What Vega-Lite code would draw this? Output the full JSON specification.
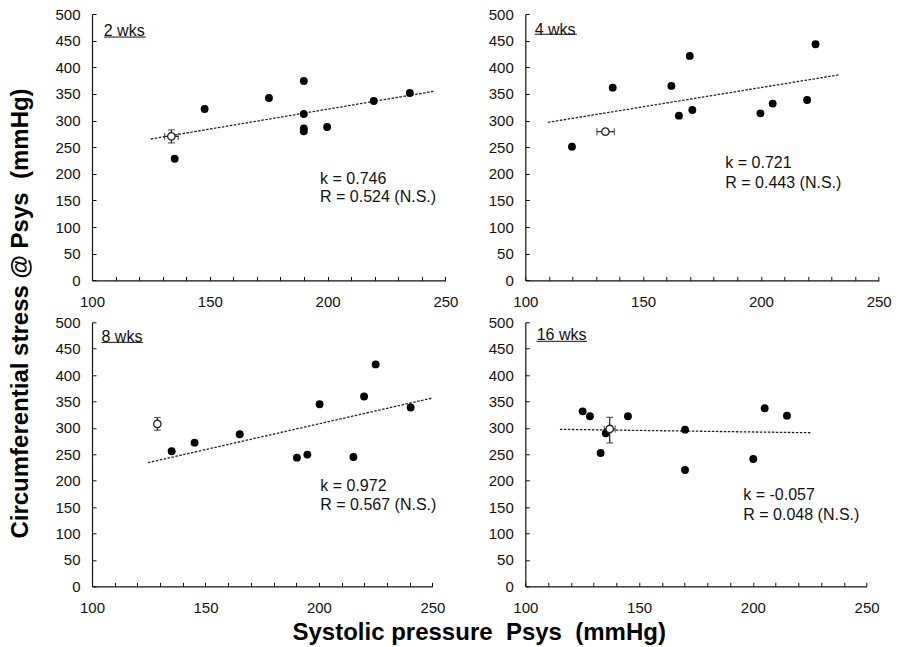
{
  "$schema": "https://vega.github.io/schema/vega-lite/v6.json",
  "padding": {"left": 8, "top": 7, "right": 0, "bottom": 0},
  "background": "white",
  "data": {
    "values": [
      {"panel": "2 wks", "kind": "dot", "x": 135.1, "y": 228.4},
      {"panel": "2 wks", "kind": "dot", "x": 147.8, "y": 321.7},
      {"panel": "2 wks", "kind": "dot", "x": 175.1, "y": 342.3},
      {"panel": "2 wks", "kind": "dot", "x": 189.9, "y": 374.2},
      {"panel": "2 wks", "kind": "dot", "x": 189.9, "y": 312.3},
      {"panel": "2 wks", "kind": "dot", "x": 189.9, "y": 285.0},
      {"panel": "2 wks", "kind": "dot", "x": 189.9, "y": 280.0},
      {"panel": "2 wks", "kind": "dot", "x": 199.8, "y": 287.9},
      {"panel": "2 wks", "kind": "dot", "x": 219.6, "y": 336.7},
      {"panel": "2 wks", "kind": "dot", "x": 234.9, "y": 351.7},
      {"panel": "2 wks", "kind": "mean", "x": 133.7, "y": 270.3},
      {"panel": "2 wks", "kind": "vbar", "x": 133.7, "y": 258.0, "y2": 282.5},
      {"panel": "2 wks", "kind": "vcap", "x": 133.7, "y": 258.0},
      {"panel": "2 wks", "kind": "vcap", "x": 133.7, "y": 282.5},
      {"panel": "2 wks", "kind": "hbar", "x": 130.8, "x2": 136.6, "y": 270.3},
      {"panel": "2 wks", "kind": "hcap", "x": 130.8, "y": 270.3},
      {"panel": "2 wks", "kind": "hcap", "x": 136.6, "y": 270.3},
      {"panel": "2 wks", "kind": "fit", "x": 125.0, "y": 265.4},
      {"panel": "2 wks", "kind": "fit", "x": 245.5, "y": 355.3},
      {"panel": "2 wks", "kind": "note", "x": 196.8, "y": 190.0, "text": "k = 0.746"},
      {"panel": "2 wks", "kind": "note", "x": 196.8, "y": 156.0, "text": "R = 0.524 (N.S.)"},
      {"panel": "2 wks", "kind": "tag", "x": 105.0, "y": 468.0, "text": "2 wks"},
      {"panel": "2 wks", "kind": "uline", "x": 105.0, "x2": 122.8, "y": 456.7},

      {"panel": "4 wks", "kind": "dot", "x": 119.8, "y": 251.0},
      {"panel": "4 wks", "kind": "dot", "x": 137.1, "y": 361.8},
      {"panel": "4 wks", "kind": "dot", "x": 162.0, "y": 365.0},
      {"panel": "4 wks", "kind": "dot", "x": 165.2, "y": 309.2},
      {"panel": "4 wks", "kind": "dot", "x": 169.8, "y": 421.3},
      {"panel": "4 wks", "kind": "dot", "x": 170.9, "y": 319.9},
      {"panel": "4 wks", "kind": "dot", "x": 199.8, "y": 313.6},
      {"panel": "4 wks", "kind": "dot", "x": 205.0, "y": 331.8},
      {"panel": "4 wks", "kind": "dot", "x": 219.6, "y": 338.7},
      {"panel": "4 wks", "kind": "dot", "x": 223.2, "y": 443.2},
      {"panel": "4 wks", "kind": "mean", "x": 134.0, "y": 279.2},
      {"panel": "4 wks", "kind": "hbar", "x": 130.4, "x2": 137.8, "y": 279.2},
      {"panel": "4 wks", "kind": "hcap", "x": 130.4, "y": 279.2},
      {"panel": "4 wks", "kind": "hcap", "x": 137.8, "y": 279.2},
      {"panel": "4 wks", "kind": "fit", "x": 109.6, "y": 296.7},
      {"panel": "4 wks", "kind": "fit", "x": 233.3, "y": 385.9},
      {"panel": "4 wks", "kind": "note", "x": 184.9, "y": 219.7, "text": "k = 0.721"},
      {"panel": "4 wks", "kind": "note", "x": 184.9, "y": 183.4, "text": "R = 0.443 (N.S.)"},
      {"panel": "4 wks", "kind": "tag", "x": 104.0, "y": 470.0, "text": "4 wks"},
      {"panel": "4 wks", "kind": "uline", "x": 104.0, "x2": 121.9, "y": 462.0},

      {"panel": "8 wks", "kind": "dot", "x": 135.1, "y": 255.7},
      {"panel": "8 wks", "kind": "dot", "x": 145.2, "y": 272.1},
      {"panel": "8 wks", "kind": "dot", "x": 165.1, "y": 288.0},
      {"panel": "8 wks", "kind": "dot", "x": 190.3, "y": 243.7},
      {"panel": "8 wks", "kind": "dot", "x": 194.9, "y": 249.4},
      {"panel": "8 wks", "kind": "dot", "x": 200.3, "y": 344.9},
      {"panel": "8 wks", "kind": "dot", "x": 215.2, "y": 244.9},
      {"panel": "8 wks", "kind": "dot", "x": 219.9, "y": 359.5},
      {"panel": "8 wks", "kind": "dot", "x": 225.0, "y": 420.2},
      {"panel": "8 wks", "kind": "dot", "x": 240.4, "y": 338.6},
      {"panel": "8 wks", "kind": "mean", "x": 128.8, "y": 307.6},
      {"panel": "8 wks", "kind": "vbar", "x": 128.8, "y": 295.6, "y2": 319.6},
      {"panel": "8 wks", "kind": "vcap", "x": 128.8, "y": 295.6},
      {"panel": "8 wks", "kind": "vcap", "x": 128.8, "y": 319.6},
      {"panel": "8 wks", "kind": "fit", "x": 124.7, "y": 234.2},
      {"panel": "8 wks", "kind": "fit", "x": 250.0, "y": 356.6},
      {"panel": "8 wks", "kind": "note", "x": 200.6, "y": 189.9, "text": "k = 0.972"},
      {"panel": "8 wks", "kind": "note", "x": 200.6, "y": 153.2, "text": "R = 0.567 (N.S.)"},
      {"panel": "8 wks", "kind": "tag", "x": 104.2, "y": 472.8, "text": "8 wks"},
      {"panel": "8 wks", "kind": "uline", "x": 104.2, "x2": 122.5, "y": 462.0},

      {"panel": "16 wks", "kind": "dot", "x": 125.2, "y": 331.4},
      {"panel": "16 wks", "kind": "dot", "x": 128.4, "y": 322.0},
      {"panel": "16 wks", "kind": "dot", "x": 133.1, "y": 252.5},
      {"panel": "16 wks", "kind": "dot", "x": 135.4, "y": 289.8},
      {"panel": "16 wks", "kind": "dot", "x": 145.1, "y": 322.0},
      {"panel": "16 wks", "kind": "dot", "x": 170.2, "y": 296.7},
      {"panel": "16 wks", "kind": "dot", "x": 170.2, "y": 220.3},
      {"panel": "16 wks", "kind": "dot", "x": 200.2, "y": 241.2},
      {"panel": "16 wks", "kind": "dot", "x": 205.2, "y": 337.1},
      {"panel": "16 wks", "kind": "dot", "x": 215.0, "y": 323.2},
      {"panel": "16 wks", "kind": "mean", "x": 137.1, "y": 298.0},
      {"panel": "16 wks", "kind": "vbar", "x": 137.1, "y": 271.5, "y2": 320.0},
      {"panel": "16 wks", "kind": "vcap", "x": 137.1, "y": 271.5},
      {"panel": "16 wks", "kind": "vcap", "x": 137.1, "y": 320.0},
      {"panel": "16 wks", "kind": "hbar", "x": 134.7, "x2": 139.5, "y": 298.0},
      {"panel": "16 wks", "kind": "hcap", "x": 134.7, "y": 298.0},
      {"panel": "16 wks", "kind": "hcap", "x": 139.5, "y": 298.0},
      {"panel": "16 wks", "kind": "fit", "x": 115.2, "y": 297.3},
      {"panel": "16 wks", "kind": "fit", "x": 225.5, "y": 290.8},
      {"panel": "16 wks", "kind": "note", "x": 195.8, "y": 173.0, "text": "k = -0.057"},
      {"panel": "16 wks", "kind": "note", "x": 195.8, "y": 135.7, "text": "R = 0.048 (N.S.)"},
      {"panel": "16 wks", "kind": "tag", "x": 105.0, "y": 476.0, "text": "16 wks"},
      {"panel": "16 wks", "kind": "uline", "x": 105.0, "x2": 127.1, "y": 464.0}
    ]
  },
  "columns": 2,
  "bounds": "flush",
  "spacing": {"row": 41.3, "column": 79.3},
  "concat": [
    {
      "width": 353.4,
      "height": 266.4,
      "transform": [{"filter": "datum.panel === '2 wks'"}],
      "encoding": {
        "x": {"field": "x", "type": "quantitative", "scale": {"domain": [100, 250], "nice": false, "zero": false},
              "axis": {"title": null, "values": [100, 110, 120, 130, 140, 150, 160, 170, 180, 190, 200, 210, 220, 230, 240, 250], "labelExpr": "datum.value % 50 === 0 ? datum.label : ''"}},
        "y": {"field": "y", "type": "quantitative", "scale": {"domain": [0, 500], "nice": false, "zero": false},
              "axis": {"values": [0, 50, 100, 150, 200, 250, 300, 350, 400, 450, 500],
                       "title": "Circumferential stress @ Psys \u00a0(mmHg)", "titleAngle": -90, "titleX": -71.8, "titleY": 299,
                       "titleAlign": "center", "titleBaseline": "middle", "titleFontSize": 24, "titleFontWeight": "bold"}}
      },
      "layer": [
        {"transform": [{"filter": "datum.kind === 'fit'"}], "mark": {"type": "line", "color": "#222", "strokeWidth": 1.3, "strokeDash": [2.5, 1.5]}, "encoding": {}},
        {"transform": [{"filter": "datum.kind === 'vbar'"}], "mark": {"type": "rule", "color": "#222", "strokeWidth": 1.2}, "encoding": {"y2": {"field": "y2"}}},
        {"transform": [{"filter": "datum.kind === 'hbar'"}], "mark": {"type": "rule", "color": "#222", "strokeWidth": 1.2}, "encoding": {"x2": {"field": "x2"}}},
        {"transform": [{"filter": "datum.kind === 'vcap'"}], "mark": {"type": "tick", "orient": "horizontal", "color": "#222", "size": 7, "thickness": 1.2}},
        {"transform": [{"filter": "datum.kind === 'hcap'"}], "mark": {"type": "tick", "orient": "vertical", "color": "#222", "size": 7, "thickness": 1.2}},
        {"transform": [{"filter": "datum.kind === 'dot'"}], "mark": {"type": "circle", "color": "#000", "opacity": 1, "size": 62}},
        {"transform": [{"filter": "datum.kind === 'mean'"}], "mark": {"type": "point", "shape": "circle", "filled": false, "fill": "white", "fillOpacity": 1, "stroke": "#222", "strokeWidth": 1.3, "opacity": 1, "size": 55}},
        {"transform": [{"filter": "datum.kind === 'note'"}], "mark": {"type": "text", "align": "left", "baseline": "middle", "fontSize": 16, "color": "#111"}, "encoding": {"text": {"field": "text"}}},
        {"transform": [{"filter": "datum.kind === 'tag'"}], "mark": {"type": "text", "align": "left", "baseline": "middle", "fontSize": 16, "color": "#111"}, "encoding": {"text": {"field": "text"}}},
        {"transform": [{"filter": "datum.kind === 'uline'"}], "mark": {"type": "rule", "color": "#111", "strokeWidth": 1}, "encoding": {"x2": {"field": "x2"}}}
      ]
    },
    {
      "width": 353.4,
      "height": 266.4,
      "transform": [{"filter": "datum.panel === '4 wks'"}],
      "encoding": {
        "x": {"field": "x", "type": "quantitative", "scale": {"domain": [100, 250], "nice": false, "zero": false},
              "axis": {"title": null, "values": [100, 110, 120, 130, 140, 150, 160, 170, 180, 190, 200, 210, 220, 230, 240, 250], "labelExpr": "datum.value % 50 === 0 ? datum.label : ''"}},
        "y": {"field": "y", "type": "quantitative", "scale": {"domain": [0, 500], "nice": false, "zero": false},
              "axis": {"title": null, "values": [0, 50, 100, 150, 200, 250, 300, 350, 400, 450, 500]}}
      },
      "layer": [
        {"transform": [{"filter": "datum.kind === 'fit'"}], "mark": {"type": "line", "color": "#222", "strokeWidth": 1.3, "strokeDash": [2.5, 1.5]}, "encoding": {}},
        {"transform": [{"filter": "datum.kind === 'hbar'"}], "mark": {"type": "rule", "color": "#222", "strokeWidth": 1.2}, "encoding": {"x2": {"field": "x2"}}},
        {"transform": [{"filter": "datum.kind === 'hcap'"}], "mark": {"type": "tick", "orient": "vertical", "color": "#222", "size": 7, "thickness": 1.2}},
        {"transform": [{"filter": "datum.kind === 'dot'"}], "mark": {"type": "circle", "color": "#000", "opacity": 1, "size": 62}},
        {"transform": [{"filter": "datum.kind === 'mean'"}], "mark": {"type": "point", "shape": "circle", "filled": false, "fill": "white", "fillOpacity": 1, "stroke": "#222", "strokeWidth": 1.3, "opacity": 1, "size": 55}},
        {"transform": [{"filter": "datum.kind === 'note'"}], "mark": {"type": "text", "align": "left", "baseline": "middle", "fontSize": 16, "color": "#111"}, "encoding": {"text": {"field": "text"}}},
        {"transform": [{"filter": "datum.kind === 'tag'"}], "mark": {"type": "text", "align": "left", "baseline": "middle", "fontSize": 16, "color": "#111"}, "encoding": {"text": {"field": "text"}}},
        {"transform": [{"filter": "datum.kind === 'uline'"}], "mark": {"type": "rule", "color": "#111", "strokeWidth": 1}, "encoding": {"x2": {"field": "x2"}}}
      ]
    },
    {
      "width": 340.4,
      "height": 264,
      "transform": [{"filter": "datum.panel === '8 wks'"}],
      "encoding": {
        "x": {"field": "x", "type": "quantitative", "scale": {"domain": [100, 250], "nice": false, "zero": false},
              "axis": {"values": [100, 110, 120, 130, 140, 150, 160, 170, 180, 190, 200, 210, 220, 230, 240, 250], "labelExpr": "datum.value % 50 === 0 ? datum.label : ''",
                       "title": "Systolic pressure \u00a0Psys \u00a0(mmHg)", "titleX": 386.7, "titleY": 46.3, "titleAlign": "center", "titleBaseline": "middle", "titleFontSize": 24, "titleFontWeight": "bold"}},
        "y": {"field": "y", "type": "quantitative", "scale": {"domain": [0, 500], "nice": false, "zero": false},
              "axis": {"title": null, "values": [0, 50, 100, 150, 200, 250, 300, 350, 400, 450, 500]}}
      },
      "layer": [
        {"transform": [{"filter": "datum.kind === 'fit'"}], "mark": {"type": "line", "color": "#222", "strokeWidth": 1.3, "strokeDash": [2.5, 1.5]}, "encoding": {}},
        {"transform": [{"filter": "datum.kind === 'vbar'"}], "mark": {"type": "rule", "color": "#222", "strokeWidth": 1.2}, "encoding": {"y2": {"field": "y2"}}},
        {"transform": [{"filter": "datum.kind === 'vcap'"}], "mark": {"type": "tick", "orient": "horizontal", "color": "#222", "size": 7, "thickness": 1.2}},
        {"transform": [{"filter": "datum.kind === 'dot'"}], "mark": {"type": "circle", "color": "#000", "opacity": 1, "size": 62}},
        {"transform": [{"filter": "datum.kind === 'mean'"}], "mark": {"type": "point", "shape": "circle", "filled": false, "fill": "white", "fillOpacity": 1, "stroke": "#222", "strokeWidth": 1.3, "opacity": 1, "size": 55}},
        {"transform": [{"filter": "datum.kind === 'note'"}], "mark": {"type": "text", "align": "left", "baseline": "middle", "fontSize": 16, "color": "#111"}, "encoding": {"text": {"field": "text"}}},
        {"transform": [{"filter": "datum.kind === 'tag'"}], "mark": {"type": "text", "align": "left", "baseline": "middle", "fontSize": 16, "color": "#111"}, "encoding": {"text": {"field": "text"}}},
        {"transform": [{"filter": "datum.kind === 'uline'"}], "mark": {"type": "rule", "color": "#111", "strokeWidth": 1}, "encoding": {"x2": {"field": "x2"}}}
      ]
    },
    {
      "width": 341.3,
      "height": 264,
      "transform": [{"filter": "datum.panel === '16 wks'"}],
      "encoding": {
        "x": {"field": "x", "type": "quantitative", "scale": {"domain": [100, 250], "nice": false, "zero": false},
              "axis": {"title": null, "values": [100, 110, 120, 130, 140, 150, 160, 170, 180, 190, 200, 210, 220, 230, 240, 250], "labelExpr": "datum.value % 50 === 0 ? datum.label : ''"}},
        "y": {"field": "y", "type": "quantitative", "scale": {"domain": [0, 500], "nice": false, "zero": false},
              "axis": {"title": null, "values": [0, 50, 100, 150, 200, 250, 300, 350, 400, 450, 500]}}
      },
      "layer": [
        {"transform": [{"filter": "datum.kind === 'fit'"}], "mark": {"type": "line", "color": "#222", "strokeWidth": 1.3, "strokeDash": [2.5, 1.5]}, "encoding": {}},
        {"transform": [{"filter": "datum.kind === 'vbar'"}], "mark": {"type": "rule", "color": "#222", "strokeWidth": 1.2}, "encoding": {"y2": {"field": "y2"}}},
        {"transform": [{"filter": "datum.kind === 'hbar'"}], "mark": {"type": "rule", "color": "#222", "strokeWidth": 1.2}, "encoding": {"x2": {"field": "x2"}}},
        {"transform": [{"filter": "datum.kind === 'vcap'"}], "mark": {"type": "tick", "orient": "horizontal", "color": "#222", "size": 7, "thickness": 1.2}},
        {"transform": [{"filter": "datum.kind === 'hcap'"}], "mark": {"type": "tick", "orient": "vertical", "color": "#222", "size": 7, "thickness": 1.2}},
        {"transform": [{"filter": "datum.kind === 'dot'"}], "mark": {"type": "circle", "color": "#000", "opacity": 1, "size": 62}},
        {"transform": [{"filter": "datum.kind === 'mean'"}], "mark": {"type": "point", "shape": "circle", "filled": false, "fill": "white", "fillOpacity": 1, "stroke": "#222", "strokeWidth": 1.3, "opacity": 1, "size": 55}},
        {"transform": [{"filter": "datum.kind === 'note'"}], "mark": {"type": "text", "align": "left", "baseline": "middle", "fontSize": 16, "color": "#111"}, "encoding": {"text": {"field": "text"}}},
        {"transform": [{"filter": "datum.kind === 'tag'"}], "mark": {"type": "text", "align": "left", "baseline": "middle", "fontSize": 16, "color": "#111"}, "encoding": {"text": {"field": "text"}}},
        {"transform": [{"filter": "datum.kind === 'uline'"}], "mark": {"type": "rule", "color": "#111", "strokeWidth": 1}, "encoding": {"x2": {"field": "x2"}}}
      ]
    }
  ],
  "config": {
    "font": "Liberation Sans",
    "view": {"stroke": null},
    "axis": {
      "grid": false,
      "domainColor": "#111",
      "domainWidth": 1.2,
      "tickColor": "#111",
      "tickWidth": 1,
      "tickSize": -4,
      "labelColor": "#111",
      "labelFont": "Liberation Sans",
      "labelFontSize": 15,
      "labelFlush": false,
      "labelOverlap": false,
      "titleColor": "#000",
      "titleFont": "Liberation Sans"
    },
    "axisY": {"labelPadding": 16},
    "axisX": {"labelPadding": 18}
  }
}
